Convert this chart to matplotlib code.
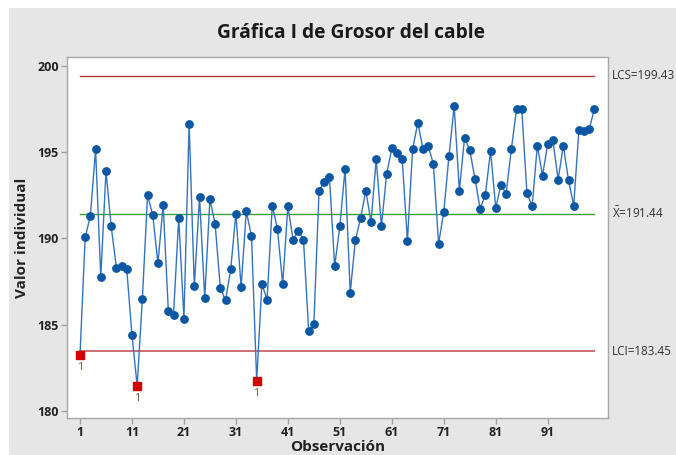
import matplotlib
matplotlib.use("Agg")
import matplotlib.pyplot as plt
from matplotlib.patches import Rectangle
import numpy as np

plt.rcParams['font.family'] = ['Open Sans', 'DejaVu Sans']
plt.rcParams['mathtext.fontset'] = 'custom'
plt.rcParams['mathtext.rm'] = 'Open Sans'
plt.rcParams['mathtext.default'] = 'regular'

# Individual measurements of cable thickness, in order of observation
grosor = [
    183.22, 190.06, 191.31, 195.16, 187.75, 193.91, 190.70, 188.30, 188.40, 188.20,
    184.38, 181.46, 186.49, 192.50, 191.36, 188.55, 191.94, 185.80, 185.58, 191.21,
    185.34, 196.63, 187.23, 192.40, 186.52, 192.27, 190.84, 187.13, 186.40, 188.22,
    191.43, 187.17, 191.57, 190.13, 181.74, 187.35, 186.45, 191.90, 190.53, 187.35,
    191.86, 189.93, 190.43, 189.93, 184.63, 185.04, 192.77, 193.29, 193.58, 188.38,
    190.71, 194.02, 186.85, 189.93, 191.16, 192.77, 190.93, 194.59, 190.70, 193.72,
    195.22, 194.95, 194.63, 189.84, 195.16, 196.71, 195.19, 195.36, 194.32, 189.69,
    191.53, 194.78, 197.66, 192.77, 195.84, 195.11, 193.47, 191.71, 192.54, 195.07,
    191.76, 193.10, 192.60, 195.17, 197.49, 197.53, 192.63, 191.86, 195.38, 193.64,
    195.49, 195.69, 193.41, 195.38, 193.37, 191.90, 196.29, 196.23, 196.35, 197.53,
]

# Control limits
lcs = 199.43
media = 191.44
lci = 183.45

x_ticks = [1, 11, 21, 31, 41, 51, 61, 71, 81, 91]
y_ticks = [180, 185, 190, 195, 200]

obs = np.arange(1, len(grosor) + 1)
vals = np.array(grosor)

W, H = 676, 455
fig = plt.figure(figsize=(W / 100, H / 100), dpi=100, facecolor='#e6e6e6')

# white margin strips at the top and left of the canvas
fig.patches.append(Rectangle((0, 1 - 8 / H), 1, 8 / H, transform=fig.transFigure,
                             facecolor='white', edgecolor='none', zorder=0))
fig.patches.append(Rectangle((0, 0), 9 / W, 1, transform=fig.transFigure,
                             facecolor='white', edgecolor='none', zorder=0))

left, right, top, bottom = 67, 608, 57, 418
ax = fig.add_axes([left / W, 1 - bottom / H, (right - left) / W, (bottom - top) / H])
ax.set_facecolor('white')

ax.set_xlim(-1.5, 102.6)
ax.set_ylim(179.58, 200.52)

# control lines
ax.plot([obs[0], obs[-1]], [lcs, lcs], color='#b03838', lw=1.0, zorder=2)
ax.plot([obs[0], obs[-1]], [media, media], color='#3a9e3a', lw=1.0, zorder=2)
ax.plot([obs[0], obs[-1]], [lci, lci], color='#cc7070', lw=1.4, zorder=2)

# data series
ax.plot(obs, vals, color='#3373c0', lw=1.0, zorder=3)
ok = (vals >= lci) & (vals <= lcs)
ax.plot(obs[ok], vals[ok], 'o', color='#0b57a4', markersize=5.3, zorder=4)
ax.plot(obs[~ok], vals[~ok], 's', color='#d40000', markersize=5.5, zorder=5)
for xi, yi in zip(obs[~ok], vals[~ok]):
    ax.annotate('1', (xi, yi), xytext=(0, -5), textcoords='offset points',
                ha='center', va='top', fontsize=8, color='#6b5a3a')

for s in ax.spines.values():
    s.set_color('#a8a8a8')
    s.set_linewidth(1.0)

ax.set_xticks(x_ticks)
ax.set_yticks(y_ticks)
ax.tick_params(axis='both', colors='#a0a0a0', length=4, width=1, labelcolor='#222222',
               labelsize=9)
ax.tick_params(axis='x', pad=1.5)
ax.tick_params(axis='y', pad=2)
for lab in ax.get_xticklabels() + ax.get_yticklabels():
    lab.set_fontweight('bold')

ax.set_xlabel('Observación', fontsize=11, fontweight='bold', color='#222222', labelpad=1)
ax.set_ylabel('Valor individual', fontsize=11, fontweight='bold', color='#222222', labelpad=6)

fig.text(351 / W, 1 - 33 / H, 'Gráfica I de Grosor del cable',
         ha='center', va='center', fontsize=13.8, fontweight='bold', color='#1a1a1a')

# limit labels to the right of the plot
for yv, txt in [(lcs, 'LCS=199.43'), (media, r'$\bar{X}$=191.44'), (lci, 'LCI=183.45')]:
    ax.annotate(txt, xy=(1.0, yv), xycoords=('axes fraction', 'data'),
                xytext=(3, 0), textcoords='offset points', ha='left', va='center',
                fontsize=8.4, color='#333333',
                annotation_clip=False)

fig.savefig('out.png', dpi=100, facecolor=fig.get_facecolor())
